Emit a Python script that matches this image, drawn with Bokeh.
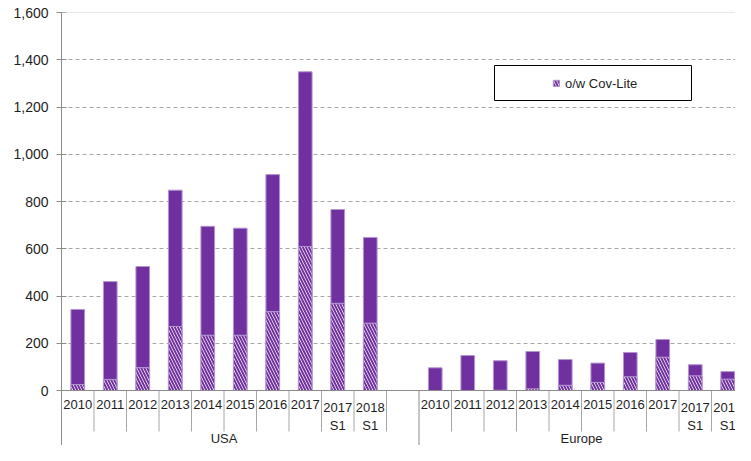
import numpy as np
from bokeh.plotting import figure
from bokeh.models import (Range1d, FixedTicker, NumeralTickFormatter, ColumnDataSource,
                          Span, BoxAnnotation, Legend, LegendItem)
from bokeh.core.properties import value
from bokeh.embed import file_html
from bokeh.resources import INLINE

# ---------------- data ----------------
groups = ["USA", "Europe"]
periods = ["2010", "2011", "2012", "2013", "2014", "2015", "2016", "2017", "2017\nS1", "2018\nS1"]
usa_total = [343, 461, 525, 848, 695, 687, 914, 1349, 766, 648]
usa_covlite = [25, 47, 97, 271, 234, 234, 334, 609, 369, 285]
europe_total = [96, 148, 126, 165, 131, 116, 161, 216, 109, 80]
europe_covlite = [0, 0, 1, 7, 22, 34, 58, 141, 62, 48]
y_ticks = [0, 200, 400, 600, 800, 1000, 1200, 1400, 1600]
legend_label = "o/w Cov-Lite"

# ---------------- layout (pixels) ----------------
W, H = 735, 445
BORDER_LEFT, BORDER_TOP = 61, 12
FRAME_W = W - BORDER_LEFT
FRAME_H = H - BORDER_TOP
SLOT_PX = 32.5           # width of one category slot
ZERO_PX = 378            # distance of value 0 from frame top
YMAX = 1600
PX_PER_UNIT = ZERO_PX / YMAX
YMIN = -(FRAME_H - ZERO_PX) / PX_PER_UNIT
XMAX = FRAME_W / SLOT_PX


def ypx(px_below_zero):
    """convert pixels below the baseline into data units"""
    return -px_below_zero / PX_PER_UNIT


PURPLE = "#7030A0"
EDGE = "#B393D0"
GRAY = "#8C8C8C"
TXT = "#1E1E1E"
FONT = "Liberation Sans"

# ---------------- category positions ----------------
n = len(periods)
usa_x = [i + 0.5 for i in range(n)]
eu_x = [n + 1 + i + 0.5 for i in range(n)]   # one empty slot between the groups

xs = usa_x + eu_x
totals = usa_total + europe_total
covs = usa_covlite + europe_covlite
labels = periods + periods

src = ColumnDataSource(dict(x=xs, total=totals, cov=covs, label=labels))

p = figure(width=W, height=H, output_backend="svg", toolbar_location=None,
           x_range=Range1d(0, XMAX), y_range=Range1d(YMIN, YMAX),
           x_axis_location=None, y_axis_location="left",
           min_border_left=BORDER_LEFT, min_border_top=BORDER_TOP,
           min_border_right=0, min_border_bottom=0)
p.outline_line_color = None
p.background_fill_color = "white"
p.border_fill_color = "white"

# grid
p.xgrid.visible = False
p.ygrid.ticker = FixedTicker(ticks=y_ticks[1:-1])
p.ygrid.grid_line_color = "#A6A6A6"
p.ygrid.grid_line_dash = "4 3"
p.ygrid.grid_line_width = 1

# y axis
ax = p.yaxis[0]
ax.ticker = FixedTicker(ticks=y_ticks)
ax.formatter = NumeralTickFormatter(format="0,0")
ax.axis_line_color = GRAY
ax.major_tick_line_color = GRAY
ax.major_tick_in = 5
ax.major_tick_out = 5
ax.minor_tick_line_color = None
ax.major_label_standoff = 8
ax.major_label_text_font = FONT
ax.major_label_text_font_size = "14px"
ax.major_label_text_color = TXT

# top line and baseline
p.add_layout(Span(location=YMAX, dimension="width", line_color="#D0D0D0", line_width=1))
p.add_layout(Span(location=0, dimension="width", line_color=GRAY, line_width=1))

# bars
BAR_W = 0.42
p.vbar(x="x", top="total", bottom=0, width=BAR_W, source=src,
       fill_color=PURPLE, line_color=EDGE, line_width=1)
cov_r = p.vbar(x="x", top="cov", bottom=0, width=BAR_W, source=src,
               fill_color="white", line_color=EDGE, line_width=1,
               hatch_pattern="\\", hatch_color=PURPLE, hatch_weight=2, hatch_scale=6)

# category separators
short_sep = [i for i in range(1, 2 * n + 2) if i != n + 1]
long_sep = [0, n + 1]
p.segment(x0=short_sep, x1=short_sep, y0=[0] * len(short_sep),
          y1=[ypx(41)] * len(short_sep), line_color="#A6A6A6", line_width=1)
p.segment(x0=long_sep, x1=long_sep, y0=[0] * len(long_sep),
          y1=[YMIN] * len(long_sep), line_color=GRAY, line_width=1)

# category labels
p.text(x="x", y=ypx(9), text="label", source=src,
       text_font=value(FONT), text_font_size="13px", text_color=TXT,
       text_align="center", text_baseline="top", text_line_height=1.25)

# group labels
gx = [(usa_x[0] + usa_x[-1]) / 2, (eu_x[0] + eu_x[-1]) / 2]
p.text(x=gx, y=[ypx(48)] * 2, text=groups,
       text_font=value(FONT), text_font_size="13px", text_color=TXT,
       text_align="center", text_baseline="middle")

# legend box
p.add_layout(BoxAnnotation(left=(494 - BORDER_LEFT) / SLOT_PX, right=(691 - BORDER_LEFT) / SLOT_PX,
                           top=(390 - 65) / PX_PER_UNIT, bottom=(390 - 100) / PX_PER_UNIT,
                           fill_color="white", fill_alpha=1, line_color="black",
                           line_width=1, line_alpha=1))

legend = Legend(items=[LegendItem(label=legend_label, renderers=[cov_r])],
                location=(552 - BORDER_LEFT, H - 90.5), orientation="vertical",
                padding=0, margin=0, spacing=0,
                glyph_width=8, glyph_height=8, label_standoff=5,
                label_text_font=FONT, label_text_font_size="13px",
                label_text_color=TXT, label_height=15,
                border_line_color=None, background_fill_alpha=0)
p.add_layout(legend)

open("out.html", "w").write(file_html(p, INLINE))
